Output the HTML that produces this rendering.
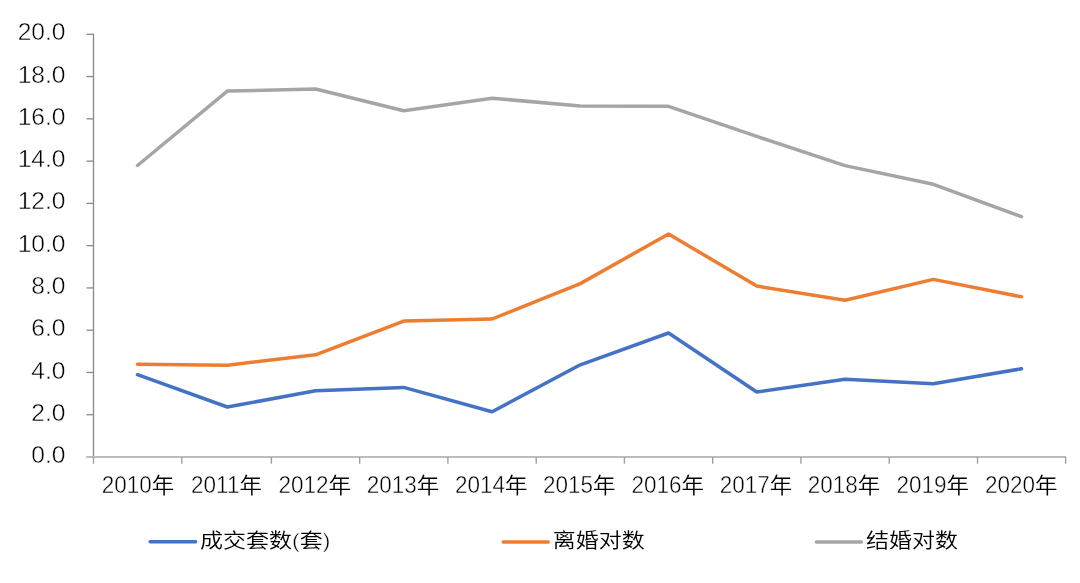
<!DOCTYPE html>
<html><head><meta charset="utf-8"><title>成交套数、离婚对数与结婚对数</title>
<style>
html,body{margin:0;padding:0;background:#fff;}
body{width:1080px;height:583px;overflow:hidden;}
svg{display:block;will-change:transform;}
.ax{stroke:#898989;stroke-width:1.3;}
.xax{stroke:#bcbcbc;stroke-width:2;}
.xt{stroke:#a0a0a0;stroke-width:1.4;}
.s{fill:none;stroke-width:3.5;stroke-linecap:round;stroke-linejoin:round;}
text{font-family:"Liberation Sans","Noto Sans CJK SC DemiLight","Noto Sans CJK SC",sans-serif;fill:#000;}
.yl{font-size:24.6px;text-anchor:end;}
.xd{font-size:23.8px;text-anchor:end;}
.xc{font-size:22.5px;}
.lg{font-size:23px;}
.th{stroke:#fff;stroke-width:0.45px;stroke-linejoin:round;}
</style></head>
<body>
<svg width="1080" height="583" viewBox="0 0 1080 583">
<line x1="86.5" y1="34.30" x2="93.5" y2="34.30" class="ax"/>
<line x1="86.5" y1="76.57" x2="93.5" y2="76.57" class="ax"/>
<line x1="86.5" y1="118.84" x2="93.5" y2="118.84" class="ax"/>
<line x1="86.5" y1="161.11" x2="93.5" y2="161.11" class="ax"/>
<line x1="86.5" y1="203.38" x2="93.5" y2="203.38" class="ax"/>
<line x1="86.5" y1="245.65" x2="93.5" y2="245.65" class="ax"/>
<line x1="86.5" y1="287.92" x2="93.5" y2="287.92" class="ax"/>
<line x1="86.5" y1="330.19" x2="93.5" y2="330.19" class="ax"/>
<line x1="86.5" y1="372.46" x2="93.5" y2="372.46" class="ax"/>
<line x1="86.5" y1="414.73" x2="93.5" y2="414.73" class="ax"/>
<line x1="86.5" y1="457.00" x2="93.5" y2="457.00" class="ax"/>
<line x1="93.5" y1="33.70" x2="93.5" y2="457.00" class="ax"/>
<line x1="86.5" y1="457.0" x2="1066.2" y2="457.0" class="xax"/>
<line x1="93.5" y1="457.0" x2="93.5" y2="463.7" class="xt"/>
<line x1="181.8" y1="457.0" x2="181.8" y2="463.7" class="xt"/>
<line x1="271.4" y1="457.0" x2="271.4" y2="463.7" class="xt"/>
<line x1="359.7" y1="457.0" x2="359.7" y2="463.7" class="xt"/>
<line x1="447.9" y1="457.0" x2="447.9" y2="463.7" class="xt"/>
<line x1="536.2" y1="457.0" x2="536.2" y2="463.7" class="xt"/>
<line x1="624.4" y1="457.0" x2="624.4" y2="463.7" class="xt"/>
<line x1="712.7" y1="457.0" x2="712.7" y2="463.7" class="xt"/>
<line x1="800.9" y1="457.0" x2="800.9" y2="463.7" class="xt"/>
<line x1="889.2" y1="457.0" x2="889.2" y2="463.7" class="xt"/>
<line x1="977.5" y1="457.0" x2="977.5" y2="463.7" class="xt"/>
<line x1="1065.6" y1="457.0" x2="1065.6" y2="463.7" class="xt"/>
<text x="65.5" y="40.3" class="yl th">20.0</text>
<text x="65.5" y="82.6" class="yl th">18.0</text>
<text x="65.5" y="124.8" class="yl th">16.0</text>
<text x="65.5" y="167.1" class="yl th">14.0</text>
<text x="65.5" y="209.4" class="yl th">12.0</text>
<text x="65.5" y="251.6" class="yl th">10.0</text>
<text x="65.5" y="293.9" class="yl th">8.0</text>
<text x="65.5" y="336.2" class="yl th">6.0</text>
<text x="65.5" y="378.5" class="yl th">4.0</text>
<text x="65.5" y="420.7" class="yl th">2.0</text>
<text x="65.5" y="463.0" class="yl th">0.0</text>
<text transform="translate(151.66,493.3) scale(0.945,1)" class="xd th">2010</text><text transform="translate(151.66,493.3) scale(1,0.955)" class="xc">年</text>
<text transform="translate(239.41,493.3) scale(0.945,1)" class="xd th">2011</text><text transform="translate(239.41,493.3) scale(1,0.955)" class="xc">年</text>
<text transform="translate(328.51,493.3) scale(0.945,1)" class="xd th">2012</text><text transform="translate(328.51,493.3) scale(1,0.955)" class="xc">年</text>
<text transform="translate(416.66,493.3) scale(0.945,1)" class="xd th">2013</text><text transform="translate(416.66,493.3) scale(1,0.955)" class="xc">年</text>
<text transform="translate(505.11,493.3) scale(0.945,1)" class="xd th">2014</text><text transform="translate(505.11,493.3) scale(1,0.955)" class="xc">年</text>
<text transform="translate(593.01,493.3) scale(0.945,1)" class="xd th">2015</text><text transform="translate(593.01,493.3) scale(1,0.955)" class="xc">年</text>
<text transform="translate(681.41,493.3) scale(0.945,1)" class="xd th">2016</text><text transform="translate(681.41,493.3) scale(1,0.955)" class="xc">年</text>
<text transform="translate(769.71,493.3) scale(0.945,1)" class="xd th">2017</text><text transform="translate(769.71,493.3) scale(1,0.955)" class="xc">年</text>
<text transform="translate(857.81,493.3) scale(0.945,1)" class="xd th">2018</text><text transform="translate(857.81,493.3) scale(1,0.955)" class="xc">年</text>
<text transform="translate(946.41,493.3) scale(0.945,1)" class="xd th">2019</text><text transform="translate(946.41,493.3) scale(1,0.955)" class="xc">年</text>
<text transform="translate(1035.01,493.3) scale(0.945,1)" class="xd th">2020</text><text transform="translate(1035.01,493.3) scale(1,0.955)" class="xc">年</text>
<polyline points="137.50,165.50 227.30,91.10 315.55,89.00 403.75,110.70 492.05,98.20 580.30,106.10 668.55,106.30 756.80,136.40 845.05,165.60 933.35,184.30 1021.50,216.60" stroke="#A5A5A5" class="s"/>
<polyline points="137.50,364.30 227.30,365.20 315.55,354.80 403.75,321.10 492.05,319.00 580.30,283.60 668.55,234.00 756.80,286.10 845.05,300.30 933.35,279.40 1021.50,296.80" stroke="#ED7D31" class="s"/>
<polyline points="137.50,374.70 227.30,407.00 315.55,390.80 403.75,387.40 492.05,411.80 580.30,364.80 668.55,333.00 756.80,392.00 845.05,379.20 933.35,383.70 1021.50,368.80" stroke="#4472C4" class="s"/>
<line x1="150.2" y1="541.8" x2="195.6" y2="541.8" stroke="#4472C4" class="s"/>
<line x1="503.2" y1="541.9" x2="548.2" y2="541.9" stroke="#ED7D31" class="s"/>
<line x1="816.4" y1="541.9" x2="861.4" y2="541.9" stroke="#A5A5A5" class="s"/>
<text transform="translate(200,548.3) scale(1,0.9)" class="lg">成交套数<tspan class="th">(</tspan>套<tspan class="th">)</tspan></text>
<text transform="translate(552.8,548.3) scale(1,0.9)" class="lg">离婚对数</text>
<text transform="translate(866,548.3) scale(1,0.9)" class="lg">结婚对数</text>
</svg>
</body></html>
